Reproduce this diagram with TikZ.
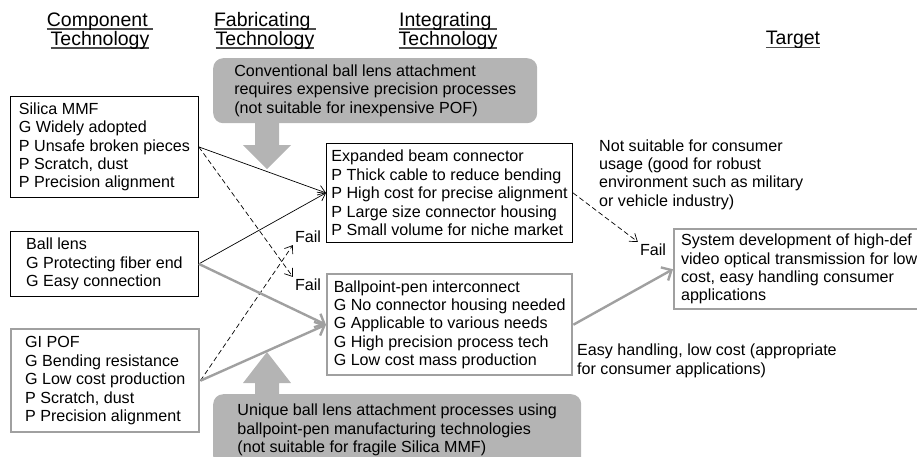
\documentclass[tikz,border=0pt]{standalone}
\usepackage{fontspec}
\setmainfont{Liberation Sans}
\usetikzlibrary{arrows.meta}

\definecolor{grisnota}{RGB}{180,180,180}
\definecolor{grislinea}{RGB}{160,160,160}
\newcommand{\cuerpo}{\fontsize{16.1}{18.4}\selectfont}
\newcommand{\cabeza}{\fontsize{19.5}{19}\selectfont}
\newcommand{\subrayar}[1]{\leavevmode\setbox0\hbox{#1}%
	\rlap{\textcolor{black!70}{\rule[-3.5pt]{\wd0}{1.6pt}}}\box0}

\tikzset{
	caja/.style={draw=black, line width=0.8pt, align=left, anchor=north west,
		inner xsep=5pt, inner ysep=0pt, font=\cuerpo},
	cajagris/.style={caja, draw=grislinea, line width=2.4pt},
	nota/.style={fill=grisnota, rounded corners=10pt, align=left, anchor=north west,
		inner xsep=8pt, inner ysep=0pt, font=\cuerpo},
	texto/.style={align=left, anchor=west, inner sep=0pt, font=\cuerpo},
	titulo/.style={align=center, inner sep=0pt, font=\cabeza},
	falla/.style={inner sep=2pt, font=\cuerpo},
	flecha/.style={-{Straight Barb[length=7pt,width=10pt]}, line width=0.7pt},
	flechagris/.style={-{Straight Barb[length=8pt,width=15pt]}, draw=grislinea, line width=2.4pt},
	discontinua/.style={dash pattern=on 5pt off 3pt}
}

\begin{document}
\begin{tikzpicture}[x=1pt, y=-1pt]
	\useasboundingbox (0,0) rectangle (917,456);

% Titulos
	\node[titulo] (tcompo) at (100,31) {\subrayar{Component\ }\\\subrayar{Technology}};
	\node[titulo] (tfabri) at (265,31) {\subrayar{Fabricating\ }\\\subrayar{Technology}};
	\node[titulo] (tinteg) at (448,31) {\subrayar{Integrating\ }\\\subrayar{Technology}};
	\node[titulo] (tmeta) at (793,40) {\subrayar{Target}};

% Componentes
	\node[caja, minimum width=188pt, minimum height=101pt] (silica) at (10,96)
		{Silica MMF\\G Widely adopted\\P Unsafe broken pieces\\P Scratch, dust\\P Precision alignment};
	\node[caja, minimum width=188pt, minimum height=65pt] (bola) at (10,231)
		{Ball lens\\G Protecting fiber end\\G Easy connection};
	\node[cajagris, minimum width=188pt, minimum height=103pt] (pof) at (10,328)
		{GI POF\\G Bending resistance\\G Low cost production\\P Scratch, dust\\P Precision alignment};

% Integracion
	\node[caja, minimum width=245pt, minimum height=99pt] (haz) at (326,143)
		{Expanded beam connector\\P Thick cable to reduce bending\\P High cost for precise alignment\\P Large size connector housing\\P Small volume for niche market};
	\node[cajagris, minimum width=245pt, minimum height=101pt] (boli) at (326,273)
		{Ballpoint-pen interconnect\\G No connector housing needed\\G Applicable to various needs\\G High precision process tech\\G Low cost mass production};

% Objetivo
	\node[cajagris, minimum width=250pt, minimum height=80pt, inner xsep=5pt] (meta) at (673,228)
		{System development of high-def\\video optical transmission for low\\cost, easy handling consumer\\applications};

% Notas grises
	\node[nota, minimum width=324pt, minimum height=65pt] (notasup) at (213,58)
		{Conventional ball lens attachment\\requires expensive precision processes\\(not suitable for inexpensive POF)};
	\fill[grisnota] (255,120) -- (279,120) -- (279,145) -- (291,145) -- (267,169)
		-- (243,145) -- (255,145) -- cycle;
	\node[nota, minimum width=368pt, minimum height=72pt] (notainf) at (213,394)
		{Unique ball lens attachment processes using\\ballpoint-pen manufacturing technologies\\(not suitable for fragile Silica MMF)};
	\fill[grisnota] (255,397) -- (255,383) -- (243,383) -- (267,352) -- (291,383)
		-- (279,383) -- (279,397) -- cycle;

% Textos
	\node[texto] (nocons) at (599,174.5) {Not suitable for consumer\\usage (good for robust\\environment such as military\\or vehicle industry)};
	\node[texto] (facil) at (577,361) {Easy handling, low cost (appropriate\\for consumer applications)};
	\node[falla] (fallaA) at (308,237) {Fail};
	\node[falla] (fallaB) at (308,285) {Fail};
	\node[falla] (fallaC) at (653,250) {Fail};

% Conexiones
	\draw[flecha] (silica.east) -- (haz.west);
	\draw[flecha] (bola.east) -- (haz.west);
	\draw[flecha, discontinua] (silica.east) -- (fallaB.north west);
	\draw[flecha, discontinua] (pof.east) -- (fallaA.south west);
	\draw[flecha, discontinua] (haz.east) -- (fallaC.north west);
	\draw[flechagris] (bola.east) -- (boli.west);
	\draw[flechagris] (pof.east) -- (boli.west);
	\draw[flechagris] (boli.east) -- (meta.west);

\end{tikzpicture}
\end{document}
